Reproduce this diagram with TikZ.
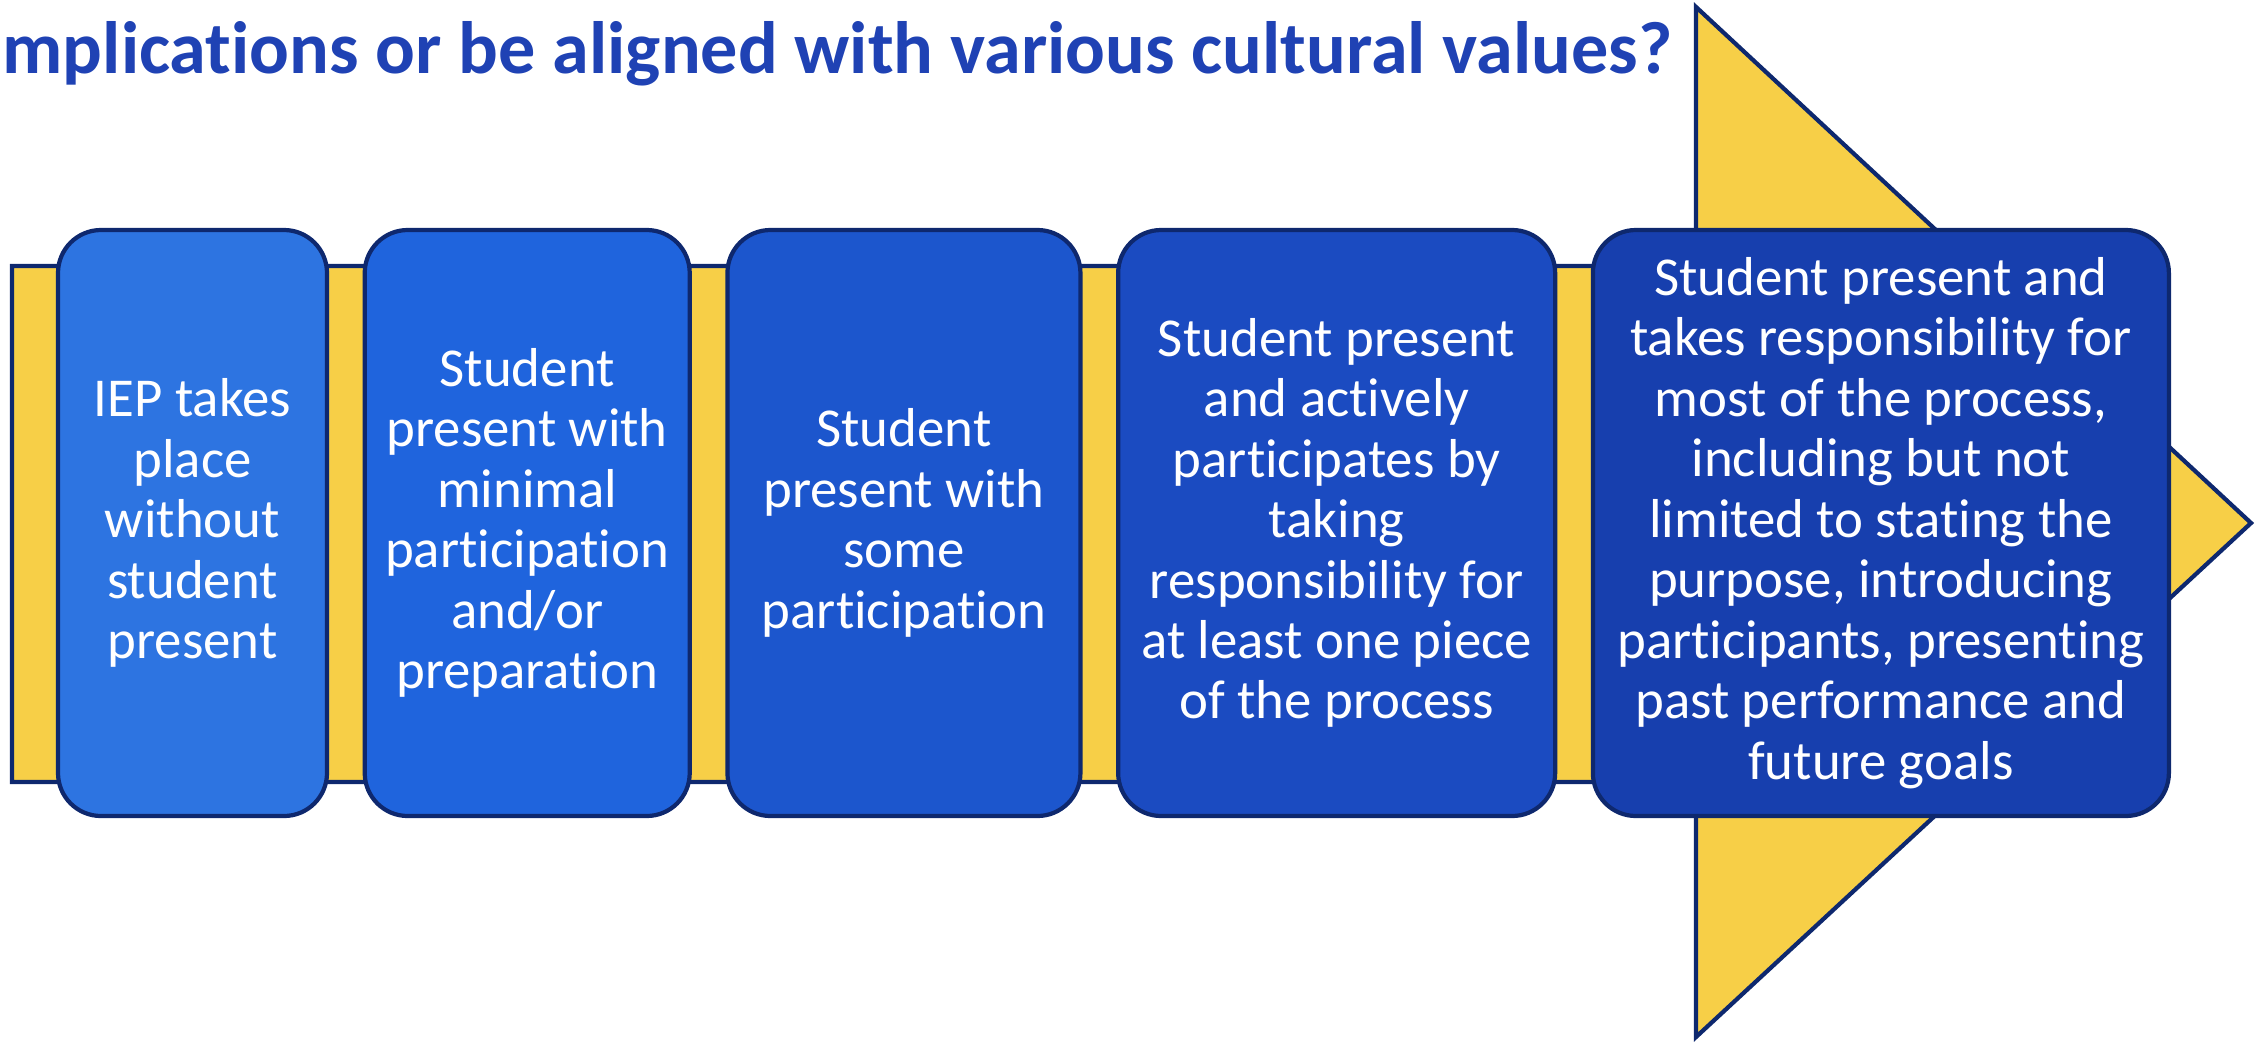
\documentclass[tikz,border=0pt]{standalone}
\usepackage{fontspec}
\setmainfont{Carlito}[Ligatures=NoCommon]
\usetikzlibrary{positioning}
\definecolor{bandyellow}{RGB}{247,207,71}
\definecolor{edgenavy}{RGB}{14,40,110}
\definecolor{titleblue}{RGB}{31,66,180}
\definecolor{stageA}{RGB}{45,116,225}
\definecolor{stageB}{RGB}{31,100,221}
\definecolor{stageC}{RGB}{28,86,205}
\definecolor{stageD}{RGB}{27,75,193}
\definecolor{stageE}{RGB}{23,63,174}
\tikzset{
    node distance=0.335cm, % gap between the stages
    stagebox/.style={draw=edgenavy, line width=1.2pt, rounded corners=0.43cm,
        text=white, align=center, minimum height=5.86cm, inner sep=0pt,
        font=\fontsize{15.6}{17.2}\selectfont}, % one stage of the scale
    bigarrow/.style={draw=edgenavy, line width=1.2pt, fill=bandyellow}, % yellow arrow behind
}

\begin{document}
\begin{tikzpicture}
    \useasboundingbox (0,0) rectangle (22.67,10.41);
    \clip (0,0) rectangle (22.67,10.41);

    % title line
    \node[anchor=base west, inner sep=0pt, text=titleblue,
        font=\bfseries\fontsize{21.1}{25}\selectfont] (title) at (0.02,9.67)
        {mplications or be aligned with various cultural values?};

    % arrow: band and head
    \draw[bigarrow] (0.12,7.75) -- (16.96,7.75) -- (16.96,10.34) -- (22.51,5.18)
        -- (16.96,0.04) -- (16.96,2.59) -- (0.12,2.59) -- cycle;

    \node[stagebox, fill=stageA, minimum width=2.69cm] (s1) at (1.925,5.18)
        {IEP takes\\place\\without\\student\\present};
    \node[stagebox, fill=stageB, minimum width=3.25cm] (s2) [right=of s1]
        {Student\\present with\\minimal\\participation\\and/or\\preparation};
    \node[stagebox, fill=stageC, minimum width=3.53cm] (s3) [right=of s2]
        {Student\\present with\\some\\participation};
    \node[stagebox, fill=stageD, minimum width=4.37cm] (s4) [right=of s3]
        {Student present\\and actively\\participates by\\taking\\responsibility for\\at least one piece\\of the process};
    \node[stagebox, fill=stageE, minimum width=5.76cm] (s5) [right=of s4]
        {Student present and\\takes responsibility for\\most of the process,\\including but not\\limited to stating the\\purpose, introducing\\participants, presenting\\past performance and\\future goals};
\end{tikzpicture}
\end{document}
